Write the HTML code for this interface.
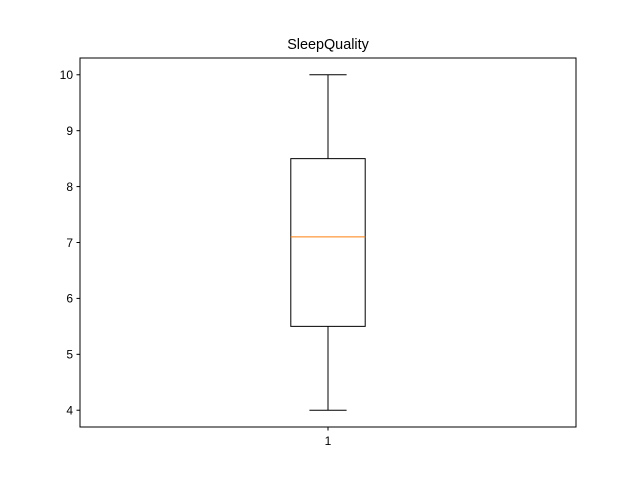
<!DOCTYPE html>
<html><head><meta charset="utf-8"><style>body{margin:0;background:#fff}svg{display:block;font-family:"Liberation Sans","DejaVu Sans",sans-serif}</style></head>
<body>
<svg id="chart" width="640" height="480" xmlns="http://www.w3.org/2000/svg">
<rect x="0" y="0" width="640" height="480" fill="#fff"/>
<text x="328" y="49" font-size="14.4" text-anchor="middle" fill="#000">SleepQuality</text>
<g id="marks"></g>
<rect x="80" y="58" width="496" height="369" fill="none" stroke="#000" stroke-width="1"/>
<g id="axes"></g>
</svg>
<script>
const categories = ["1"];
const whiskerLow = [4.0];
const q1 = [5.5];
const medians = [7.1];
const q3 = [8.5];
const whiskerHigh = [10.0];
const yTicks = [4, 5, 6, 7, 8, 9, 10];

const ns = "http://www.w3.org/2000/svg";
const X0 = 80, X1 = 576, Y0 = 58, Y1 = 427;
const yMin = 3.7, yMax = 10.3;
const xMin = 0.5, xMax = 1.5;
const sx = v => X0 + (v - xMin) / (xMax - xMin) * (X1 - X0);
const sy = v => Y1 - (v - yMin) / (yMax - yMin) * (Y1 - Y0);
function mk(tag, attrs, parent) {
  const e = document.createElementNS(ns, tag);
  for (const k in attrs) e.setAttribute(k, attrs[k]);
  parent.appendChild(e);
  return e;
}
const marks = document.getElementById('marks');
const axes = document.getElementById('axes');
const boxW = 0.15;
categories.forEach((c, i) => {
  const cx = sx(i + 1);
  const hw = (sx(i + 1 + boxW / 2) - sx(i + 1));
  const g = mk('g', {}, marks);
  
  
  const l1 = mk('line', {x1: cx, x2: cx, y1: sy(whiskerLow[i]), y2: sy(q1[i]), stroke: '#000'}, g);
  
  
  const l2 = mk('line', {x1: cx, x2: cx, y1: sy(q3[i]), y2: sy(whiskerHigh[i]), stroke: '#000'}, g);
  
  
  const c1 = mk('line', {x1: cx - hw / 2, x2: cx + hw / 2, y1: sy(whiskerLow[i]), y2: sy(whiskerLow[i]), stroke: '#000'}, g);
  
  
  const c2 = mk('line', {x1: cx - hw / 2, x2: cx + hw / 2, y1: sy(whiskerHigh[i]), y2: sy(whiskerHigh[i]), stroke: '#000'}, g);
  
  
  const b = mk('rect', {x: cx - hw, y: sy(q3[i]), width: 2 * hw, height: sy(q1[i]) - sy(q3[i]), fill: 'none', stroke: '#000'}, g);
  
  
  const m = mk('line', {x1: cx - hw, x2: cx + hw, y1: sy(medians[i]), y2: sy(medians[i]), stroke: '#ff7f0e'}, g);
  
  
  const t = mk('line', {x1: cx, x2: cx, y1: Y1, y2: Y1 + 3.5, stroke: '#000'}, axes);
  
  
  const tl = mk('text', {x: cx, y: Y1 + 18, 'font-size': 12, 'text-anchor': 'middle', fill: '#000'}, axes);
  tl.textContent = c;
  
  
});
yTicks.forEach(v => {
  const y = sy(v);
  const t = mk('line', {x1: X0 - 3.5, x2: X0, y1: y, y2: y, stroke: '#000'}, axes);
  
  
  const tl = mk('text', {x: X0 - 7, y: y + 4.3, 'font-size': 12, 'text-anchor': 'end', fill: '#000'}, axes);
  tl.textContent = v;
  
  
});
</script>
</body></html>
